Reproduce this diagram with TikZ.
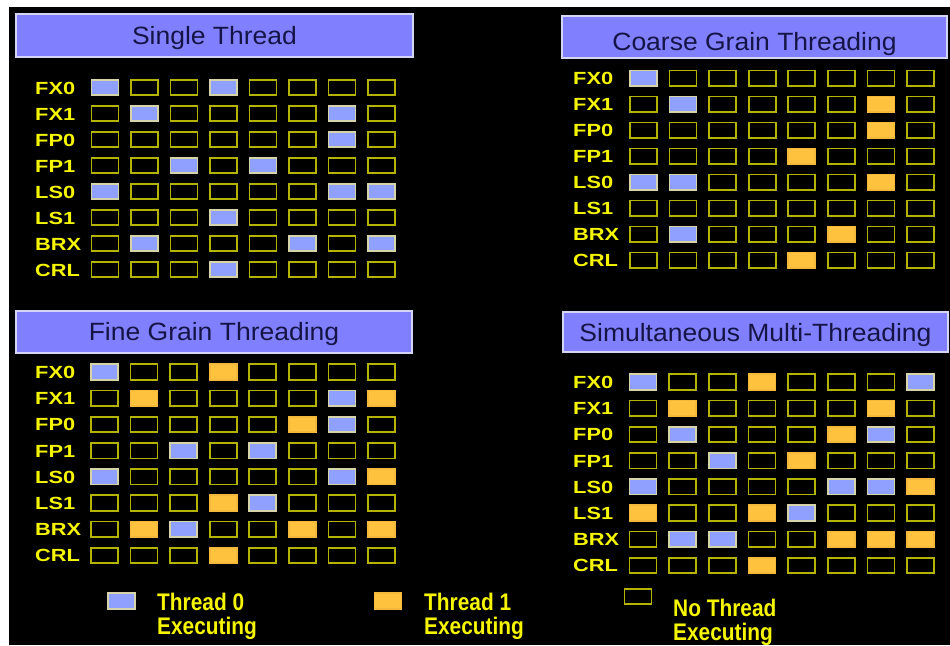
\documentclass[tikz,border=0pt]{standalone}
\usepackage{fontspec}
\newfontfamily\bannerfont[FakeStretch=1.06]{Liberation Sans}
\newfontfamily\labelfont[FakeStretch=1.24]{Liberation Sans Bold}
\newfontfamily\legendfont[FakeStretch=0.87]{Liberation Sans Bold}
\definecolor{cB}{HTML}{8FA0FF}
\definecolor{dB}{HTML}{D4D4A8}
\definecolor{cO}{HTML}{FFC23F}
\definecolor{dO}{HTML}{F2B93A}
\definecolor{cN}{HTML}{000000}
\definecolor{dN}{HTML}{B4B400}
\definecolor{labelyellow}{HTML}{F5F500}
\definecolor{bannerfill}{HTML}{8080FF}
\definecolor{bannerline}{HTML}{D4D4F4}
\definecolor{bannertext}{HTML}{151545}
\tikzset{
  cell/.style={rectangle, line width=1.7pt, minimum width=27pt, minimum height=15.5pt, inner sep=0pt},
  rowlabel/.style={anchor=base west, inner sep=0pt, text=labelyellow, font=\labelfont\fontsize{17.6}{19}\selectfont},
  banner/.style={rectangle, draw=bannerline, line width=1.5pt, fill=bannerfill, text=bannertext, font=\bannerfont\fontsize{25}{28}\selectfont, inner sep=0pt, text depth=0pt},
  legendtext/.style={anchor=base west, inner sep=0pt, text=labelyellow, font=\legendfont\fontsize{24}{26}\selectfont},
}
% #1 prefix, #2 label x, #3 first column x, #4 column step, #5 first row y, #6 row step, #7 data
\newcommand\drawpanel[7]{%
  \foreach \lab/\cells [count=\ri] in {#7}{%
    \pgfmathsetmacro\yy{#5+(\ri-1)*#6}
    \node[rowlabel] (#1-l\ri) at (#2,\yy+6.5) {\lab};
    \foreach \v [count=\k] in \cells {%
      \pgfmathsetmacro\xx{#3+(\k-1)*#4}
      \node[cell, fill=c\v, draw=d\v] (#1-\ri-\k) at (\xx,\yy) {};
    }
  }%
}
\begin{document}
\begin{tikzpicture}[x=1pt,y=-1pt]
\useasboundingbox (0,0) rectangle (950,645);
\fill[white] (0,0) rectangle (950,645);
\fill[black] (9,7) rectangle (950,645);

% banners
\node[banner, minimum width=397pt, minimum height=43pt, text height=18.4pt] (b1) at (214.5,35.5) {Single Thread};
\node[banner, minimum width=385pt, minimum height=42pt, text height=26pt] (b2) at (754.5,37) {Coarse Grain Threading};
\node[banner, minimum width=396pt, minimum height=42pt, text height=17.4pt] (b3) at (214,332) {Fine Grain Threading};
\node[banner, minimum width=385pt, minimum height=40pt, text height=19.4pt] (b4) at (755.5,332) {Simultaneous Multi-Threading};

% Single Thread
\drawpanel{p1}{35}{105}{39.5}{87.5}{26}{%
  FX0/{B,N,N,B,N,N,N,N},
  FX1/{N,B,N,N,N,N,B,N},
  FP0/{N,N,N,N,N,N,B,N},
  FP1/{N,N,B,N,B,N,N,N},
  LS0/{B,N,N,N,N,N,B,B},
  LS1/{N,N,N,B,N,N,N,N},
  BRX/{N,B,N,N,N,B,N,B},
  CRL/{N,N,N,B,N,N,N,N}}

% Coarse Grain Threading
\drawpanel{p2}{573}{643.5}{39.57}{78.3}{26}{%
  FX0/{B,N,N,N,N,N,N,N},
  FX1/{N,B,N,N,N,N,O,N},
  FP0/{N,N,N,N,N,N,O,N},
  FP1/{N,N,N,N,O,N,N,N},
  LS0/{B,B,N,N,N,N,O,N},
  LS1/{N,N,N,N,N,N,N,N},
  BRX/{N,B,N,N,N,O,N,N},
  CRL/{N,N,N,N,O,N,N,N}}

% Fine Grain Threading
\drawpanel{p3}{35}{104.5}{39.57}{372}{26.2}{%
  FX0/{B,N,N,O,N,N,N,N},
  FX1/{N,O,N,N,N,N,B,O},
  FP0/{N,N,N,N,N,O,B,N},
  FP1/{N,N,B,N,B,N,N,N},
  LS0/{B,N,N,N,N,N,B,O},
  LS1/{N,N,N,O,B,N,N,N},
  BRX/{N,O,B,N,N,O,N,O},
  CRL/{N,N,N,O,N,N,N,N}}

% Simultaneous Multi-Threading
\drawpanel{p4}{573}{643}{39.64}{382}{26.2}{%
  FX0/{B,N,N,O,N,N,N,B},
  FX1/{N,O,N,N,N,N,O,N},
  FP0/{N,B,N,N,N,O,B,N},
  FP1/{N,N,B,N,O,N,N,N},
  LS0/{B,N,N,N,N,B,B,O},
  LS1/{O,N,N,O,B,N,N,N},
  BRX/{N,B,B,N,N,O,O,O},
  CRL/{N,N,N,O,N,N,N,N}}

% legend
\node[cell, fill=cB, draw=dB] (k0) at (121.5,601) {};
\node[legendtext] (t0a) at (157,610) {Thread 0};
\node[legendtext] (t0b) at (157,634) {Executing};
\node[cell, fill=cO, draw=dO] (k1) at (388,601) {};
\node[legendtext] (t1a) at (424,610) {Thread 1};
\node[legendtext] (t1b) at (424,634) {Executing};
\node[cell, fill=cN, draw=dN] (k2) at (638,596.5) {};
\node[legendtext] (t2a) at (673,616) {No Thread};
\node[legendtext] (t2b) at (673,640) {Executing};
\end{tikzpicture}
\end{document}
